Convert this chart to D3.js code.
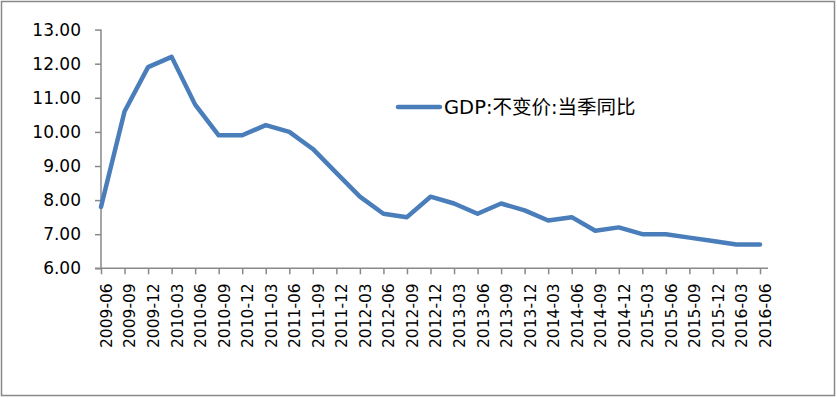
<!DOCTYPE html>
<html>
<head>
<meta charset="utf-8">
<script src="https://cdn.jsdelivr.net/npm/d3@7"></script>
<style>
  body { margin: 0; background: #fff; }
  svg text { font-family: "DejaVu Sans", sans-serif; fill: #000; }
</style>
</head>
<body>
<div id="chart"></div>
<script>
// quarter labels for the x axis
const quarters = [
    '2009-06', '2009-09', '2009-12', '2010-03', '2010-06', '2010-09', '2010-12',
    '2011-03', '2011-06', '2011-09', '2011-12', '2012-03', '2012-06', '2012-09',
    '2012-12', '2013-03', '2013-06', '2013-09', '2013-12', '2014-03', '2014-06',
    '2014-09', '2014-12', '2015-03', '2015-06', '2015-09', '2015-12', '2016-03',
    '2016-06'
]
// GDP:不变价:当季同比 (%)
const gdpValues = [
    7.8, 10.6, 11.9, 12.2, 10.8, 9.9, 9.9,
    10.2, 10.0, 9.5, 8.8, 8.1, 7.6, 7.5,
    8.1, 7.9, 7.6, 7.9, 7.7, 7.4, 7.5,
    7.1, 7.2, 7.0, 7.0, 6.9, 6.8, 6.7,
    6.7
]
const yTicks = [6, 7, 8, 9, 10, 11, 12, 13]
const seriesName = 'GDP:不变价:当季同比'

const width = 837, height = 398
const plot = { left: 101, right: 760, top: 29.6, bottom: 268.3 }
const axisColor = '#898989'
const lineColor = '#4a7ebb'

const svg = d3.select('#chart').append('svg')
    .attr('width', width)
    .attr('height', height)

// outer frame
svg.append('rect')
    .attr('x', 1.5).attr('y', 1.5)
    .attr('width', width - 4).attr('height', height - 4)
    .attr('fill', '#fff')
    .attr('stroke', axisColor)
    .attr('stroke-width', 1.5)

const x = d3.scalePoint()
    .domain(quarters)
    .range([plot.left, plot.right])

const y = d3.scaleLinear()
    .domain([6, 13])
    .range([plot.bottom, plot.top])

// y axis
const yAxis = svg.append('g')
    .attr('transform', `translate(${plot.left},0)`)
    .call(d3.axisLeft(y).tickValues(yTicks).tickFormat(d3.format('.2f'))
        .tickSize(6).tickPadding(14))
yAxis.select('.domain').attr('stroke', axisColor).attr('stroke-width', 1.5)
    .attr('d', `M0,${plot.bottom}V${plot.top}`)
yAxis.selectAll('.tick line').attr('stroke', axisColor).attr('stroke-width', 1.5)
yAxis.selectAll('.tick text')
    .attr('font-size', 17)
    .attr('font-family', '"DejaVu Sans", sans-serif')

// x axis
const xAxis = svg.append('g')
    .attr('transform', `translate(0,${plot.bottom})`)
    .call(d3.axisBottom(x).tickSize(6).tickSizeOuter(0))
xAxis.select('.domain').attr('stroke', axisColor).attr('stroke-width', 1.5)
    .attr('d', `M${plot.left - 6},0H${plot.right + 8}`)
xAxis.selectAll('.tick line').attr('stroke', axisColor).attr('stroke-width', 1.5)
xAxis.selectAll('.tick text')
    .attr('font-size', 15.5)
    .attr('font-family', '"DejaVu Sans", sans-serif')
    .attr('text-anchor', 'end')
    .attr('transform', 'rotate(-90)')
    .attr('x', -15)
    .attr('y', 5)
    .attr('dy', '0.35em')

// the series line
const line = d3.line()
    .x((d, i) => x(quarters[i]))
    .y(d => y(d))

svg.append('path')
    .datum(gdpValues)
    .attr('d', line)
    .attr('fill', 'none')
    .attr('stroke', lineColor)
    .attr('stroke-width', 4.5)
    .attr('stroke-linejoin', 'round')
    .attr('stroke-linecap', 'round')

// legend
const legend = svg.append('g').attr('transform', 'translate(398,107)')
legend.append('line')
    .attr('x1', 0).attr('x2', 42)
    .attr('stroke', lineColor)
    .attr('stroke-width', 4.5)
    .attr('stroke-linecap', 'round')
legend.append('text')
    .attr('x', 46)
    .attr('dy', '0.35em')
    .attr('font-size', 19.5)
    .style('font-family', '"DejaVu Sans", "Noto Sans CJK SC", sans-serif')
    .text(seriesName)
</script>
</body>
</html>
